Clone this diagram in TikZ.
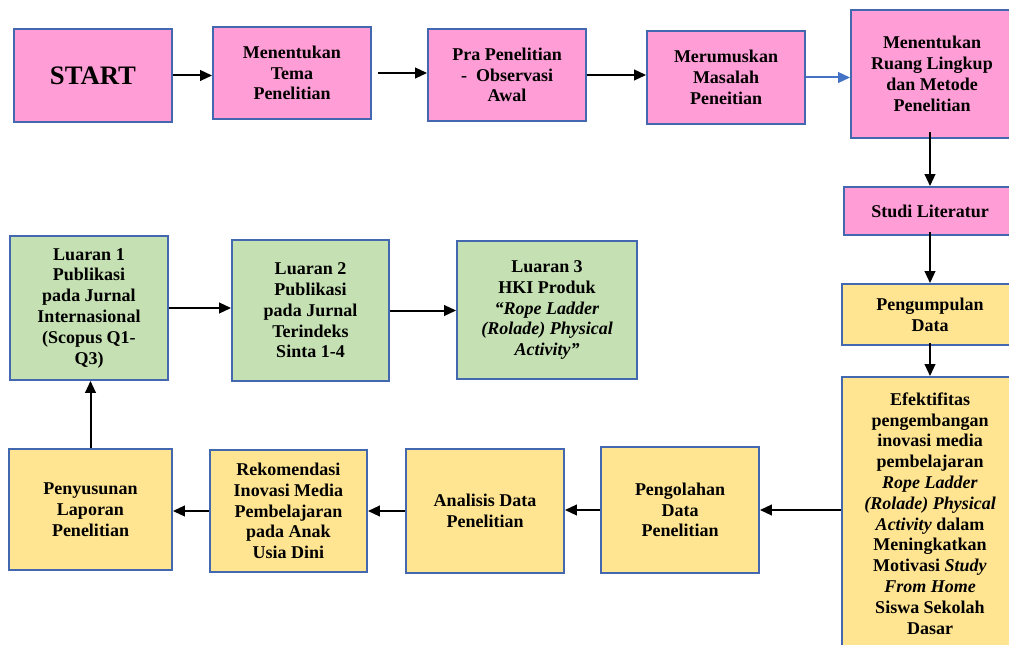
\documentclass[tikz,border=0pt]{standalone}
\usepackage{fontspec}
\setmainfont{Liberation Serif}
\usepackage{tikz}
\usetikzlibrary{arrows.meta}
\definecolor{pinkfill}{RGB}{255,158,214}
\definecolor{yellowfill}{RGB}{255,229,145}
\definecolor{greenfill}{RGB}{197,224,178}
\definecolor{boxline}{RGB}{68,104,176}
\definecolor{arrowblue}{RGB}{68,114,196}
\tikzset{every picture/.style={line width=0.75pt}}
\tikzset{
  boxsize/.style 2 args={minimum width=#1*0.75pt, minimum height=#2*0.75pt},
  box/.style={draw=boxline, line width=1.4pt, align=center, inner sep=0.75pt,
    font=\bfseries\fontsize{13.5}{15.6}\selectfont},
  pinkbox/.style={box, fill=pinkfill},
  yellowbox/.style={box, fill=yellowfill},
  greenbox/.style={box, fill=greenfill},
  arr/.style={-{Triangle[length=9pt,width=8pt]}, line width=1.5pt},
}

\begin{document}
\begin{tikzpicture}[x=0.75pt,y=0.75pt,yscale=-1,xscale=1]
\useasboundingbox (0,0) rectangle (1009,645);

%Shape: Rectangle, top row
\node [pinkbox, boxsize={158}{93}, font=\bfseries\fontsize{20}{24}\selectfont] (start) at (93,75.5) {START};
\node [pinkbox, boxsize={158}{92}] (tema) at (292,73) {Menentukan\\Tema\\Penelitian};
\node [pinkbox, boxsize={158}{92}] (pra) at (507,75) {Pra Penelitian\\-~~Observasi~\\Awal};
\node [pinkbox, boxsize={158}{93}] (rumus) at (726,77.5) {Merumuskan\\Masalah\\Peneitian};
\node [pinkbox, boxsize={162}{128}] (ruang) at (932,74) {Menentukan\\Ruang Lingkup\\dan Metode\\Penelitian};

%Shape: Rectangle, right column
\node [pinkbox, boxsize={172}{48}] (studi) at (930,211) {Studi Literatur};
\node [yellowbox, boxsize={176}{61}] (kumpul) at (930,314.5) {Pengumpulan\\Data};
\node [yellowbox, boxsize={176}{273}] (efektif) at (930,513.5) {Efektifitas\\pengembangan\\inovasi media\\pembelajaran\\\textit{Rope Ladder}\\\textit{(Rolade) Physical}\\\textit{Activity} dalam\\Meningkatkan\\Motivasi \textit{Study}\\\textit{From Home}\\Siswa Sekolah\\Dasar};

%Shape: Rectangle, bottom row
\node [yellowbox, boxsize={158}{126}] (olah) at (680,510) {Pengolahan\\Data\\Penelitian};
\node [yellowbox, boxsize={158}{124}] (analisis) at (485,511) {Analisis Data\\Penelitian};
\node [yellowbox, boxsize={157}{122}] (rekom) at (288.5,511) {Rekomendasi\\Inovasi Media\\Pembelajaran\\pada Anak\\Usia Dini};
\node [yellowbox, boxsize={163}{121}] (susun) at (90.5,509.5) {Penyusunan\\Laporan\\Penelitian};

%Shape: Rectangle, outputs
\node [greenbox, boxsize={158}{144}] (luaran1) at (89,308) {Luaran 1\\Publikasi\\pada Jurnal\\Internasional\\(Scopus Q1-\\Q3)};
\node [greenbox, boxsize={157}{141}] (luaran2) at (310.5,310.5) {Luaran 2\\Publikasi\\pada Jurnal\\Terindeks\\Sinta 1-4};
\node [greenbox, boxsize={180}{138}] (luaran3) at (547,310) {Luaran 3\\HKI Produk\\\textit{“Rope Ladder}\\\textit{(Rolade) Physical}\\\textit{Activity”}};

%Straight Lines
\draw [arr] (start.east) -- (start.east -| tema.west);
\draw [arr] ([xshift=4.5pt]tema.east) -- (tema.east -| pra.west);
\draw [arr] (pra.east) -- (pra.east -| rumus.west);
\draw [arr, arrowblue] (rumus.east) -- (rumus.east -| ruang.west);
\draw [arr] ([yshift=-5pt]studi.north |- ruang.south) -- (studi.north);
\draw [arr] ([yshift=-3pt]studi.south) -- (kumpul.north);
\draw [arr] ([yshift=-2pt]kumpul.south) -- (efektif.north);
\draw [arr] (efektif.west |- olah.east) -- (olah.east);
\draw [arr] (olah.west) -- (olah.west -| analisis.east);
\draw [arr] (analisis.west) -- (analisis.west -| rekom.east);
\draw [arr] (rekom.west) -- (rekom.west -| susun.east);
\draw [arr] (susun.north) -- (susun.north |- luaran1.south);
\draw [arr] (luaran1.east) -- (luaran1.east -| luaran2.west);
\draw [arr] (luaran2.east) -- (luaran2.east -| luaran3.west);

\end{tikzpicture}
\end{document}
